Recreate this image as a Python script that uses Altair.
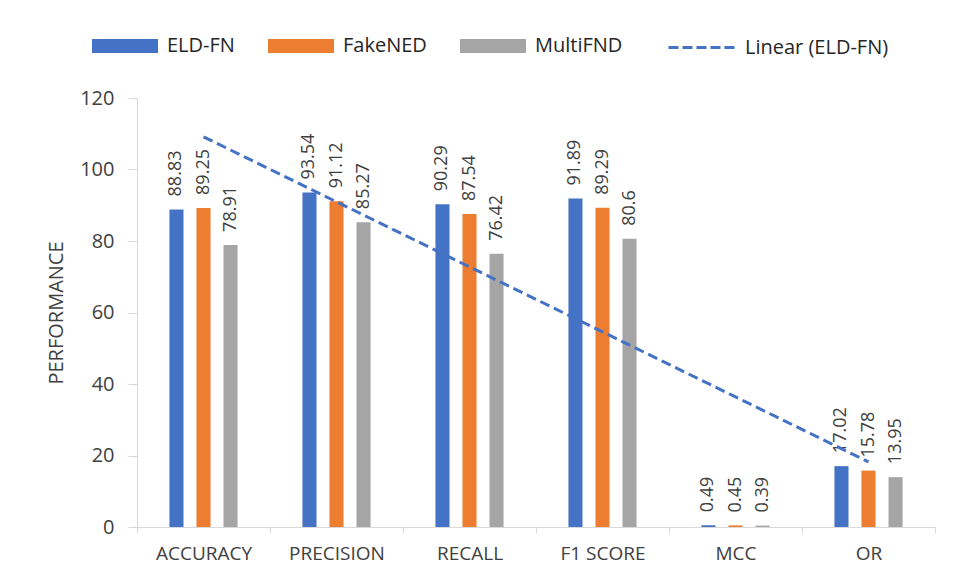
import altair as alt
import numpy as np
import pandas as pd

categories = ["ACCURACY", "PRECISION", "RECALL", "F1 SCORE", "MCC", "OR"]
series_names = ["ELD-FN", "FakeNED", "MultiFND"]
eld_fn = [88.83, 93.54, 90.29, 91.89, 0.49, 17.02]
fakened = [89.25, 91.12, 87.54, 89.29, 0.45, 15.78]
multifnd = [78.91, 85.27, 76.42, 80.6, 0.39, 13.95]
trend_name = "Linear (ELD-FN)"
bar_colors = ["#4472C4", "#ED7D31", "#A5A5A5"]
trend_color = "#4472C4"
y_ticks = [0, 20, 40, 60, 80, 100, 120]

FONT = "Open Sans"
TXT = "#404040"

rows = []
for s, vals in zip(series_names, [eld_fn, fakened, multifnd]):
    for c, v in zip(categories, vals):
        rows.append({"category": c, "series": s, "value": v, "label": f"{v:g}"})
bars_df = pd.DataFrame(rows)

# linear trendline of ELD-FN (least squares over category index)
idx = np.arange(1, len(categories) + 1)
slope, intercept = np.polyfit(idx, eld_fn, 1)
trend_df = pd.DataFrame({"category": categories, "series": trend_name,
                         "value": slope * idx + intercept})

common_legend = dict(
    title=None, orient="none", legendY=-85,
    direction="horizontal", padding=0,
    symbolSize=4356, labelOffset=9, columnPadding=33,
    labelFont=FONT, labelFontSize=20, labelColor="#262626",
)

bar_legend = alt.Legend(
    legendX=-45, columns=3,
    symbolType="M-1,-0.21H1V0.21H-1Z", symbolStrokeWidth=0, symbolOpacity=1,
    **common_legend,
)
line_legend = alt.Legend(
    legendX=530, columns=1,
    symbolType="stroke", symbolStrokeWidth=3, symbolDash=[10, 4], symbolOpacity=1,
    **common_legend,
)

x_enc = alt.X(
    "category:N", sort=categories,
    scale=alt.Scale(paddingInner=0, paddingOuter=0),
    axis=alt.Axis(title=None, labelAngle=0, tickBand="extent", tickSize=6,
                  tickColor="#d9d9d9", domainColor="#d9d9d9", labelPadding=11,
                  labelFont=FONT, labelFontSize=19, labelColor=TXT),
)
y_enc = alt.Y(
    "value:Q", scale=alt.Scale(domain=[0, 120], nice=False),
    axis=alt.Axis(values=y_ticks, title="PERFORMANCE", grid=False,
                  tickSize=9, tickColor="#d9d9d9", domainColor="#d9d9d9",
                  labelPadding=14, labelFont=FONT, labelFontSize=20, labelColor=TXT,
                  titleFont=FONT, titleFontSize=20, titleColor=TXT, titleFontWeight="normal",
                  titleAngle=270, titleAlign="center", titleBaseline="middle",
                  titleX=-81, titleY=214.5),
)
# empty slots on both sides of each group give the gaps between groups
offset_domain = ["_gap_left"] + series_names + ["_gap_right"]
xoff = alt.XOffset("series:N",
                   scale=alt.Scale(domain=offset_domain, paddingInner=0.48, paddingOuter=0.2))

bars = alt.Chart(bars_df).mark_bar().encode(
    x=x_enc, xOffset=xoff, y=y_enc,
    fill=alt.Fill("series:N", scale=alt.Scale(domain=series_names, range=bar_colors),
                  legend=bar_legend),
)

labels = alt.Chart(bars_df).mark_text(
    angle=270, align="left", baseline="middle", dx=13,
    font=FONT, fontSize=18, color=TXT,
).encode(x=x_enc, xOffset=xoff, y=y_enc, text="label:N")

trend = alt.Chart(trend_df).mark_line(strokeDash=[10, 5], strokeWidth=3).encode(
    x=x_enc, y=y_enc,
    stroke=alt.Stroke("series:N", scale=alt.Scale(domain=[trend_name], range=[trend_color]),
                      legend=line_legend),
)

chart = alt.layer(bars, labels, trend).properties(
    width=798, height=429,
    autosize=alt.AutoSizeParams(type="none"),
    padding={"left": 129, "top": 90, "right": 8, "bottom": 40},
    background="white",
).resolve_scale(fill="independent", stroke="independent").configure_view(stroke=None)

chart.save("out.html", embed_options={"renderer": "svg", "actions": False})
